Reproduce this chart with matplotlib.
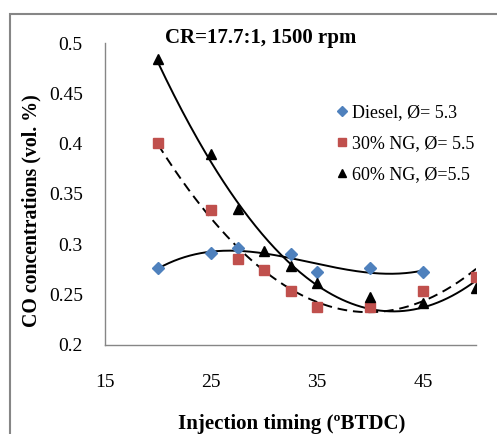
import numpy as np
import matplotlib.pyplot as plt
from matplotlib.patches import Rectangle

# injection timing (deg BTDC) and CO (vol. %)
x_diesel = [20, 25, 27.5, 32.5, 35, 40, 45]
co_diesel = [0.276, 0.291, 0.296, 0.290, 0.273, 0.276, 0.273]

x_ng30 = [20, 25, 27.5, 30, 32.5, 35, 40, 45, 50]
co_ng30 = [0.401, 0.334, 0.285, 0.274, 0.254, 0.238, 0.238, 0.254, 0.268]

x_ng60 = [20, 25, 27.5, 30, 32.5, 35, 40, 45, 50]
co_ng60 = [0.484, 0.390, 0.335, 0.293, 0.278, 0.262, 0.248, 0.242, 0.257]

labels = ['Diesel, Ø= 5.3', '30% NG, Ø= 5.5', '60% NG, Ø=5.5']
xticks = [15, 25, 35, 45]
yticks = [0.2, 0.25, 0.3, 0.35, 0.4, 0.45, 0.5]
ytick_labels = ['0.2', '0.25', '0.3', '0.35', '0.4', '0.45', '0.5']

plt.rcParams['font.family'] = ['Liberation Serif', 'DejaVu Serif']

fig = plt.figure(figsize=(4.97, 4.34), dpi=100)
ax = fig.add_axes([0.2113, 0.2051, 0.7467, 0.6958])

# Excel-style polynomial trendlines
def trend(x, y, order, ls):
    c = np.polyfit(x, y, order)
    xs = np.linspace(min(x), max(x), 200)
    ax.plot(xs, np.polyval(c, xs), color='black', lw=1.4, ls=ls, zorder=2)

trend(x_diesel, co_diesel, 3, '-')
trend(x_ng30, co_ng30, 2, (0, (5, 3)))
trend(x_ng60, co_ng60, 2, '-')

ax.plot(x_diesel, co_diesel, 'D', color='#4F81BD', ms=6, ls='none', label=labels[0], zorder=3)
ax.plot(x_ng30, co_ng30, 's', color='#C0504D', ms=6.5, ls='none', label=labels[1], zorder=3)
ax.plot(x_ng60, co_ng60, '^', color='black', ms=7, ls='none', label=labels[2], zorder=3)

ax.set_xlim(15, 50)
ax.set_ylim(0.2, 0.5)
ax.set_xticks(xticks)
ax.set_yticks(yticks)
ax.set_yticklabels(ytick_labels)
ax.tick_params(length=0, labelsize=14)
ax.tick_params(axis='y', pad=16)
ax.tick_params(axis='x', pad=21)
for s in ['top', 'right']:
    ax.spines[s].set_visible(False)
for s in ['left', 'bottom']:
    ax.spines[s].set_color('#868686')
    ax.spines[s].set_linewidth(1.0)

fig.text(165/497, 1-38/434, 'CR=17.7:1, 1500 rpm', fontsize=15, fontweight='bold', va='center', ha='left')
fig.text(31/497, 1-211/434, 'CO concentrations (vol. %)', fontsize=14.3, fontweight='bold',
         rotation=90, va='center', ha='center')
fig.text(292/497, 1-424/434, 'Injection timing (ºBTDC)', fontsize=15, fontweight='bold',
         va='center', ha='center')

ax.legend(loc='upper left', bbox_to_anchor=(324/497, 1-95/434), bbox_transform=fig.transFigure,
          frameon=False, fontsize=13, handletextpad=0.05, handlelength=1.0, labelspacing=0.78,
          borderpad=0, markerscale=0.8)

fig.patches.append(Rectangle((10/497, -0.1), 1.0, 1-14/434+0.1, transform=fig.transFigure,
                             fill=False, edgecolor='#868686', lw=1.5, clip_on=False))

fig.savefig('out.png', dpi=100)
